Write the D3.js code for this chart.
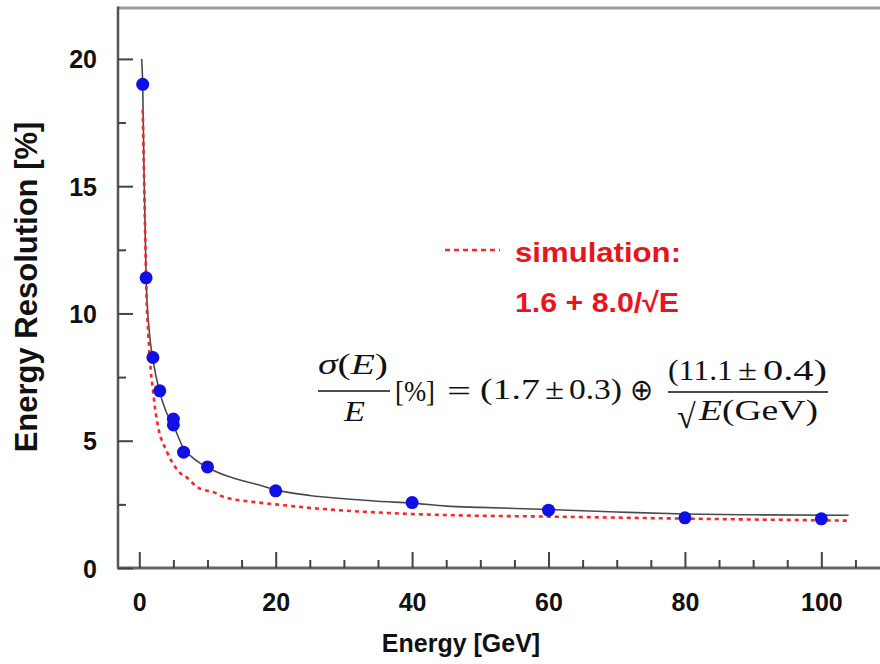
<!DOCTYPE html>
<html><head><meta charset="utf-8">
<script src="https://cdn.jsdelivr.net/npm/d3@7"></script>
<style>html,body{margin:0;padding:0;background:#fff;}svg{display:block;}</style>
</head><body>
<svg id="c" width="880" height="664"></svg>
<script>
// ---- data ----
const energy = [0.5, 1, 2, 3, 5, 5, 6.5, 10, 20, 40, 60, 80, 100];
const resolution = [19.0, 11.4, 8.27, 6.96, 5.85, 5.62, 4.55, 3.97, 3.03, 2.57, 2.27, 1.97, 1.93];

const fitE = [0.35, 0.5, 0.7, 1.0, 1.5, 2.0, 3.0, 4.0, 5.0, 6.5, 8, 10, 13, 17.7, 20, 25, 30, 35, 40, 45, 50, 60, 70, 80, 90, 104];
const fitY = [20.0, 19.0, 15.5, 11.4, 9.2, 8.2, 6.9, 6.1, 5.6, 4.7, 4.3, 3.95, 3.6, 3.25, 3.07, 2.85, 2.72, 2.62, 2.55, 2.43, 2.38, 2.3, 2.2, 2.12, 2.09, 2.07];

const simE = [0.5, 0.8, 1.08, 1.32, 1.67, 2.0, 2.3, 2.8, 4.0, 6.0, 7.0, 8.4, 11.3, 12.3, 17.2, 20, 25.5, 35, 45, 60, 80, 104];
const simY = [18.0, 14.0, 10.5, 9.2, 7.8, 7.0, 6.3, 5.5, 4.6, 3.73, 3.55, 3.2, 2.93, 2.8, 2.58, 2.5, 2.35, 2.18, 2.08, 2.02, 1.94, 1.86];

const xMajor = [0, 20, 40, 60, 80, 100];
const xMinor = [5, 10, 15, 25, 30, 35, 45, 50, 55, 65, 70, 75, 85, 90, 95, 105];
const yMajor = [0, 5, 10, 15, 20];
const yMinor = [2.5, 7.5, 12.5, 17.5];

const xTitle = "Energy [GeV]";
const yTitle = "Energy Resolution [%]";
const legendTitle = "simulation:";
const legendFormula = "1.6 + 8.0/\u221AE";

// ---- layout ----
const svg = d3.select("#c");
const L = 118, R = 880, T = 8, B = 568;
const x = d3.scaleLinear().domain([-3.12, 108.6]).range([L, R]);
const y = d3.scaleLinear().domain([0, 22]).range([B, T]);
const sans = "'Liberation Sans', Arial, Helvetica, sans-serif";
const serif = "'Liberation Serif', 'Times New Roman', serif";

// frame lines
svg.append("line").attr("x1", L).attr("x2", R).attr("y1", T).attr("y2", T)
  .attr("stroke", "#999").attr("stroke-width", 3);
svg.append("line").attr("x1", L).attr("x2", L).attr("y1", T - 1.5).attr("y2", B)
  .attr("stroke", "#555").attr("stroke-width", 2.5);
svg.append("line").attr("x1", L - 1).attr("x2", R).attr("y1", B).attr("y2", B)
  .attr("stroke", "#666").attr("stroke-width", 3);

// axes
function styleAxis(g) {
  g.select(".domain").remove();
  g.selectAll(".tick line").attr("stroke", "#444").attr("stroke-width", 2);
  g.selectAll(".tick text").attr("fill", "#111").attr("font-family", sans)
    .attr("font-weight", "bold").attr("font-size", 25);
}
svg.append("g").attr("transform", `translate(0,${B})`)
  .call(d3.axisBottom(x).tickValues(xMajor).tickSize(-16).tickPadding(25).tickFormat(d3.format("d")))
  .call(styleAxis);
svg.append("g").attr("transform", `translate(0,${B})`)
  .call(d3.axisBottom(x).tickValues(xMinor).tickSize(-8).tickFormat(""))
  .call(styleAxis);
svg.append("g").attr("transform", `translate(${L},0)`)
  .call(d3.axisLeft(y).tickValues(yMajor).tickSize(-15).tickPadding(21).tickFormat(d3.format("d")))
  .call(styleAxis)
  .call(g => g.selectAll(".tick text").attr("dy", "0.36em"));
svg.append("g").attr("transform", `translate(${L},0)`)
  .call(d3.axisLeft(y).tickValues(yMinor).tickSize(-8).tickFormat(""))
  .call(styleAxis);

// titles
svg.append("text").attr("x", 461).attr("y", 652).attr("text-anchor", "middle")
  .attr("font-family", sans).attr("font-weight", "bold").attr("font-size", 25)
  .attr("fill", "#111").text(xTitle);
svg.append("text").attr("transform", "translate(37,287) rotate(-90)").attr("text-anchor", "middle")
  .attr("font-family", sans).attr("font-weight", "bold").attr("font-size", 31)
  .attr("fill", "#111").text(yTitle);

// curves
const line = d3.line().curve(d3.curveMonotoneX).x(d => x(d[0])).y(d => y(d[1]));
svg.append("path").datum(d3.zip(fitE, fitY)).attr("d", line)
  .attr("fill", "none").attr("stroke", "#4a4a4a").attr("stroke-width", 1.6);
svg.append("path").datum(d3.zip(simE, simY)).attr("d", line)
  .attr("fill", "none").attr("stroke", "#ff2424").attr("stroke-width", 2.6)
  .attr("stroke-dasharray", "4,4");

// points
svg.append("g").selectAll("circle").data(d3.zip(energy, resolution)).join("circle")
  .attr("cx", d => x(d[0])).attr("cy", d => y(d[1])).attr("r", 6.5)
  .attr("fill", "#1010e6");

// legend
svg.append("line").attr("x1", 445).attr("x2", 500).attr("y1", 250).attr("y2", 250)
  .attr("stroke", "#ff2424").attr("stroke-width", 2.6).attr("stroke-dasharray", "5,4");
svg.append("text").attr("x", 515).attr("y", 262).attr("font-family", sans)
  .attr("font-weight", "bold").attr("font-size", 28).attr("fill", "#e8141e")
  .attr("textLength", 166).attr("lengthAdjust", "spacingAndGlyphs").text(legendTitle);
svg.append("text").attr("x", 515).attr("y", 312).attr("font-family", sans)
  .attr("font-weight", "bold").attr("font-size", 28).attr("fill", "#e8141e")
  .attr("textLength", 164).attr("lengthAdjust", "spacingAndGlyphs").text(legendFormula);

// fit formula (LaTeX-like)
const fm = svg.append("g").attr("font-family", serif).attr("font-size", 30).attr("fill", "#111");
function piece(xp, yp, w, txt, italic) {
  const t = fm.append("text").attr("x", xp).attr("y", yp)
    .attr("textLength", w).attr("lengthAdjust", "spacingAndGlyphs");
  if (italic) t.attr("font-style", "italic");
  t.text(txt);
  return t;
}
const num1 = fm.append("text").attr("x", 318).attr("y", 374)
  .attr("textLength", 70).attr("lengthAdjust", "spacingAndGlyphs");
num1.append("tspan").attr("font-style", "italic").text("\u03C3");
num1.append("tspan").text("(");
num1.append("tspan").attr("font-style", "italic").text("E");
num1.append("tspan").text(")");
fm.append("line").attr("x1", 318).attr("x2", 390).attr("y1", 391).attr("y2", 391)
  .attr("stroke", "#111").attr("stroke-width", 1.6);
piece(344, 421, 21, "E", true);
piece(395, 401, 40, "[%]");
piece(447, 401, 24, "=");
piece(480, 399, 60, "(1.7");
piece(545, 399, 19, "\u00B1");
piece(569, 399, 53, "0.3)");
piece(630, 400, 23, "\u2295");
piece(668, 380, 65, "(11.1");
piece(738, 380, 19, "\u00B1");
piece(763, 380, 64, "0.4)");
fm.append("line").attr("x1", 668).attr("x2", 828).attr("y1", 392).attr("y2", 392)
  .attr("stroke", "#111").attr("stroke-width", 1.6);
fm.append("text").attr("x", 677).attr("y", 428).attr("font-size", 34).text("\u221A");
const den2 = fm.append("text").attr("x", 699).attr("y", 420).attr("textLength", 119)
  .attr("lengthAdjust", "spacingAndGlyphs");
den2.append("tspan").attr("font-style", "italic").text("E");
den2.append("tspan").text("(GeV)");
</script>
</body></html>
